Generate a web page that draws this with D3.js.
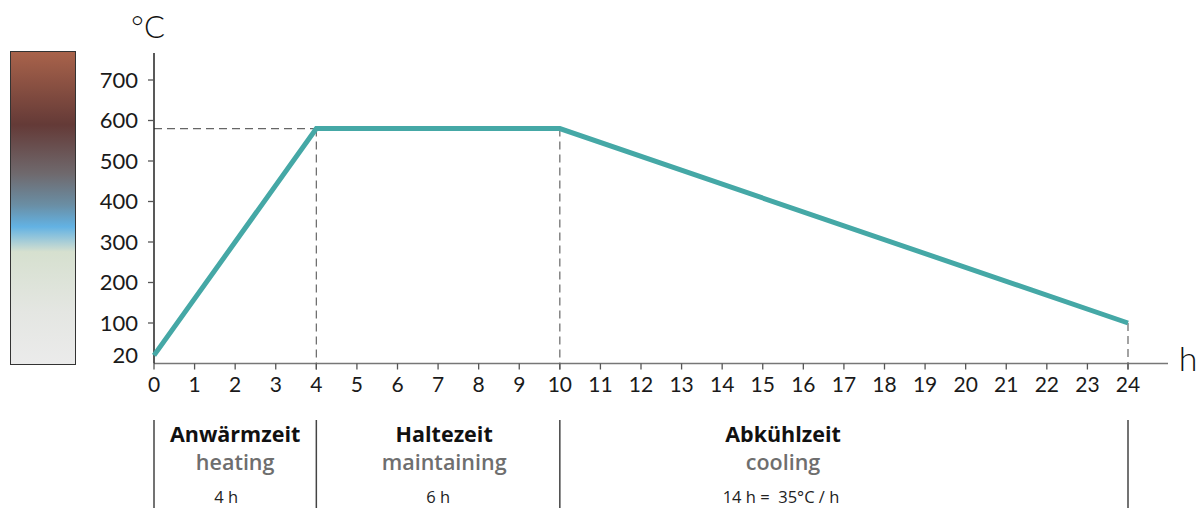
<!DOCTYPE html>
<html>
<head>
<meta charset="utf-8">
<script src="https://cdn.jsdelivr.net/npm/d3@7"></script>
<style>
  body { margin: 0; background: #fff; }
  svg { display: block; font-family: Lato, "Open Sans", sans-serif; }
  .phase text { font-family: "Open Sans", Lato, sans-serif; white-space: pre; }
</style>
</head>
<body>
<script>
// data
var hours = [0, 4, 10, 24];
var temps = [20, 580, 580, 100];
var yTicks = [100, 200, 300, 400, 500, 600, 700];
var xTicks = d3.range(0, 25);
var phaseBounds = [0, 4, 10, 24];
var phaseNames = ["Anwärmzeit", "Haltezeit", "Abkühlzeit"];
var phaseNamesEn = ["heating", "maintaining", "cooling"];
var phaseNotes = ["4 h", "6 h", "14 h =  35°C / h"];

var width = 1200, height = 508;

var svg = d3.select("body").append("svg")
  .attr("width", width)
  .attr("height", height);

var x = d3.scaleLinear().domain([0, 24]).range([154, 1128]);
var y = d3.scaleLinear().domain([0, 700]).range([363.5, 80]);

/*
 * Colour bar on the left.
 */
var defs = svg.append("defs");
var grad = defs.append("linearGradient")
  .attr("id", "heat")
  .attr("x1", 0).attr("y1", 0).attr("x2", 0).attr("y2", 1);
[[0, "#a9634b"], [0.234, "#643a37"], [0.39, "#6f696d"], [0.49, "#6a8ea4"],
 [0.56, "#63b2e3"], [0.64, "#d6e0cf"], [0.83, "#e4e6e2"], [1, "#ebebeb"]]
  .forEach(function(s) {
    grad.append("stop").attr("offset", s[0]).attr("stop-color", s[1]);
  });

svg.append("rect")
  .attr("x", 10.5).attr("y", 51.5)
  .attr("width", 65).attr("height", 313)
  .attr("fill", "url(#heat)")
  .attr("stroke", "#333")
  .attr("stroke-width", 1);

/*
 * Dashed guides.
 */
var dash = svg.append("g")
  .attr("stroke", "#666")
  .attr("stroke-width", 1.2)
  .attr("stroke-dasharray", "8,5")
  .attr("fill", "none");

dash.append("line")
  .attr("x1", x(0)).attr("x2", x(4))
  .attr("y1", y(580)).attr("y2", y(580));
[1, 2, 3].forEach(function(i) {
  dash.append("line")
    .attr("x1", x(hours[i])).attr("x2", x(hours[i]))
    .attr("y1", y(temps[i])).attr("y2", y(0) + 6);
});

/*
 * Axes.
 */
svg.append("line")
  .attr("x1", x(0)).attr("x2", 1168)
  .attr("y1", y(0)).attr("y2", y(0))
  .attr("stroke", "#777").attr("stroke-width", 1.5);

svg.selectAll(".xtick")
  .data(xTicks)
  .enter().append("line")
  .attr("x1", function(d) { return x(d); })
  .attr("x2", function(d) { return x(d); })
  .attr("y1", y(0)).attr("y2", y(0) + 6)
  .attr("stroke", "#555").attr("stroke-width", 1.3);

svg.selectAll(".xlab")
  .data(xTicks)
  .enter().append("text")
  .attr("x", function(d) { return x(d); })
  .attr("y", 392)
  .attr("text-anchor", "middle")
  .attr("font-size", 21)
  .attr("fill", "#1a1a1a")
  .text(function(d) { return d; });

svg.append("line")
  .attr("x1", x(0)).attr("x2", x(0))
  .attr("y1", 53).attr("y2", y(0))
  .attr("stroke", "#222").attr("stroke-width", 1.5);

svg.selectAll(".ytick")
  .data(yTicks)
  .enter().append("line")
  .attr("x1", x(0) - 6).attr("x2", x(0))
  .attr("y1", function(d) { return y(d); })
  .attr("y2", function(d) { return y(d); })
  .attr("stroke", "#555").attr("stroke-width", 1.3);

svg.selectAll(".ylab")
  .data([20].concat(yTicks))
  .enter().append("text")
  .attr("x", 138)
  .attr("y", function(d) { return y(d); })
  .attr("dy", "0.36em")
  .attr("text-anchor", "end")
  .attr("font-size", 22)
  .attr("fill", "#1a1a1a")
  .text(function(d) { return d; });

svg.append("text")
  .attr("x", 148).attr("y", 38)
  .attr("text-anchor", "middle")
  .attr("font-size", 31)
  .attr("font-weight", 300)
  .attr("fill", "#111")
  .text("°C");

svg.append("text")
  .attr("x", 1188).attr("y", 371)
  .attr("text-anchor", "middle")
  .attr("font-size", 34)
  .attr("font-weight", 300)
  .attr("fill", "#111")
  .text("h");

/*
 * Temperature curve.
 */
var line = d3.line()
  .x(function(d, i) { return x(hours[i]); })
  .y(function(d) { return y(d); });

svg.append("path")
  .attr("d", line(temps))
  .attr("fill", "none")
  .attr("stroke", "#45a8a6")
  .attr("stroke-width", 5)
  .attr("stroke-linejoin", "miter");

/*
 * Phase labels below the axis.
 */
svg.selectAll(".sep")
  .data(phaseBounds)
  .enter().append("line")
  .attr("x1", function(d) { return x(d); })
  .attr("x2", function(d) { return x(d); })
  .attr("y1", 420).attr("y2", 508)
  .attr("stroke", "#444").attr("stroke-width", 1.5);

// label centres sit a bit off the phase middle (in hours)
var labelShift = [0, 0.15, -1.5];
var noteShift = [-0.22, 0, -1.55];

var ph = svg.selectAll(".phase")
  .data(phaseNames)
  .enter().append("g")
  .attr("class", "phase")
  .attr("text-anchor", "middle");

function mid(i, shift) {
  return x((phaseBounds[i] + phaseBounds[i + 1]) / 2 + shift[i]);
}

ph.append("text")
  .attr("x", function(d, i) { return mid(i, labelShift); })
  .attr("y", 442)
  .attr("font-size", 21.5)
  .attr("font-weight", "bold")
  .attr("fill", "#111")
  .text(function(d) { return d; });

ph.append("text")
  .attr("x", function(d, i) { return mid(i, labelShift); })
  .attr("y", 470)
  .attr("font-size", 21.5)
  .attr("font-weight", 600)
  .attr("fill", "#6e6e6e")
  .text(function(d, i) { return phaseNamesEn[i]; });

ph.append("text")
  .attr("x", function(d, i) { return mid(i, noteShift); })
  .attr("y", 503)
  .attr("font-size", 16.5)
  .attr("fill", "#222")
  .text(function(d, i) { return phaseNotes[i]; });
</script>
</body>
</html>
